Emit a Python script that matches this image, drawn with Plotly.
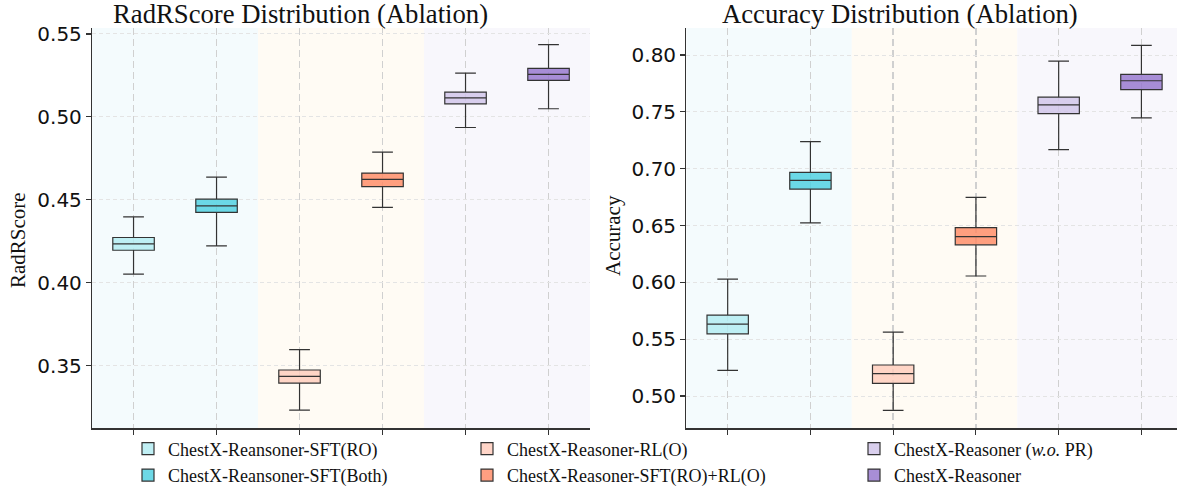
import plotly.graph_objects as go

# ---------------- data ----------------
models = [
    "ChestX-Reansoner-SFT(RO)",
    "ChestX-Reansoner-SFT(Both)",
    "ChestX-Reasoner-RL(O)",
    "ChestX-Reasoner-SFT(RO)+RL(O)",
    "ChestX-Reasoner (<i>w.o.</i> PR)",
    "ChestX-Reasoner",
]

# RadRScore box statistics
rad_low = [0.4052, 0.4222, 0.3232, 0.4454, 0.4936, 0.5049]
rad_q1 = [0.4196, 0.4424, 0.3395, 0.4579, 0.5079, 0.5220]
rad_med = [0.4234, 0.4464, 0.3436, 0.4623, 0.5115, 0.5256]
rad_q3 = [0.4273, 0.4504, 0.3474, 0.4661, 0.5149, 0.5293]
rad_high = [0.4397, 0.4637, 0.3597, 0.4788, 0.5264, 0.5436]

# Accuracy box statistics
acc_low = [0.5226, 0.6524, 0.4874, 0.6056, 0.7167, 0.7447]
acc_q1 = [0.5547, 0.6821, 0.5112, 0.6330, 0.7485, 0.7695]
acc_med = [0.5632, 0.6897, 0.5197, 0.6403, 0.7562, 0.7774]
acc_q3 = [0.5712, 0.6968, 0.5273, 0.6482, 0.7629, 0.7830]
acc_high = [0.6029, 0.7238, 0.5562, 0.6747, 0.7947, 0.8085]

rad_ticks = [0.35, 0.40, 0.45, 0.50, 0.55]
acc_ticks = [0.50, 0.55, 0.60, 0.65, 0.70, 0.75, 0.80]

# ---------------- style ----------------
colors = ["#B2EBF2", "#4DD0E1", "#FFCCBC", "#FF8A65", "#D1C4E9", "#9575CD"]
band_colors = ["#F4FBFD", "#FFFBF4", "#F8F7FC"]
legend_ids = ["legend", "legend", "legend2", "legend2", "legend3", "legend3"]


def rgba(hex_color, a):
    h = hex_color.lstrip("#")
    r, g, b = int(h[0:2], 16), int(h[2:4], 16), int(h[4:6], 16)
    return f"rgba({r},{g},{b},{a})"


fig = go.Figure()

panels = [
    ("x", "y", rad_low, rad_q1, rad_med, rad_q3, rad_high, True),
    ("x2", "y2", acc_low, acc_q1, acc_med, acc_q3, acc_high, False),
]

for xa, ya, lo, q1, med, q3, hi, show in panels:
    for i, name in enumerate(models):
        fig.add_trace(go.Box(
            x=[i], lowerfence=[lo[i]], q1=[q1[i]], median=[med[i]],
            q3=[q3[i]], upperfence=[hi[i]],
            name=name, legend=legend_ids[i], showlegend=show,
            fillcolor=rgba(colors[i], 0.82),
            line=dict(color="#333333", width=1.2),
            width=0.5, whiskerwidth=0.5, boxpoints=False,
            xaxis=xa, yaxis=ya, hoverinfo="skip",
        ))

# background bands
for xref, yref in [("x", "y domain"), ("x2", "y2 domain")]:
    for k, c in enumerate(band_colors):
        fig.add_shape(type="rect", xref=xref, yref=yref,
                      x0=2 * k - 0.5, x1=2 * k + 1.5, y0=0, y1=1,
                      fillcolor=c, line_width=0, layer="below")

ydom = [0.1187, 0.9424]
common_x = dict(
    tickmode="array", tickvals=list(range(len(models))), showticklabels=False,
    ticks="outside", ticklen=5, tickwidth=1.1, tickcolor="#333333",
    showline=True, linecolor="#333333", linewidth=1.2,
    showgrid=True, gridcolor="#D0D0D0", gridwidth=1.5, griddash="7px,4px",
    zeroline=False,
)
common_y = dict(
    ticks="outside", ticklen=5, tickwidth=1.1, tickcolor="#333333",
    showline=True, linecolor="#333333", linewidth=1.2,
    showgrid=True, gridcolor="#E4E4E4", gridwidth=1, griddash="4px,3px",
    zeroline=False, tickformat=".2f",
    tickfont=dict(family="DejaVu Sans", size=20, color="#111111"),
    domain=ydom,
)

fig.update_layout(
    width=1177, height=486,
    margin=dict(l=0, r=0, t=0, b=0, autoexpand=False),
    paper_bgcolor="white", plot_bgcolor="white",
    xaxis=dict(common_x, domain=[0.0782, 0.5013], range=[-0.5, 5.5], anchor="y"),
    xaxis2=dict(common_x, domain=[0.5831, 1.0], range=[-0.5, 5.43], anchor="y2"),
    yaxis=dict(common_y, range=[0.31225, 0.5536], tickvals=rad_ticks, anchor="x"),
    yaxis2=dict(common_y, range=[0.4716, 0.8238], tickvals=acc_ticks, anchor="x2"),
    showlegend=True,
)

leg_common = dict(
    orientation="v", xanchor="left", yanchor="top", y=0.1142,
    bgcolor="rgba(0,0,0,0)", borderwidth=0,
    font=dict(family="Liberation Serif", size=18, color="#111111"),
    itemclick=False, itemdoubleclick=False,
)
fig.update_layout(
    legend=dict(leg_common, x=(168 - 40) / 1177),
    legend2=dict(leg_common, x=(507 - 40) / 1177),
    legend3=dict(leg_common, x=(894 - 40) / 1177),
)

title_font = dict(family="Liberation Serif", size=26.7, color="#111111")
fig.add_annotation(text="RadRScore Distribution (Ablation)", xref="paper", yref="paper",
                   x=300 / 1177, y=1, xanchor="center", yanchor="top", yshift=3,
                   showarrow=False, font=title_font)
fig.add_annotation(text="Accuracy Distribution (Ablation)", xref="paper", yref="paper",
                   x=900 / 1177, y=1, xanchor="center", yanchor="top", yshift=3,
                   showarrow=False, font=title_font)

label_font = dict(family="Liberation Serif", size=21, color="#111111")
fig.add_annotation(text="RadRScore", xref="paper", yref="paper", textangle=-90,
                   x=18 / 1177, y=(486 - 240) / 486, xanchor="center", yanchor="middle",
                   showarrow=False, font=label_font)
fig.add_annotation(text="Accuracy", xref="paper", yref="paper", textangle=-90,
                   x=613 / 1177, y=(486 - 236) / 486, xanchor="center", yanchor="middle",
                   showarrow=False, font=label_font)

fig.write_html(
    "out.html",
    config={"displayModeBar": False, "staticPlot": True},
    post_script="document.body.style.margin='0';document.body.style.overflow='hidden';",
)
